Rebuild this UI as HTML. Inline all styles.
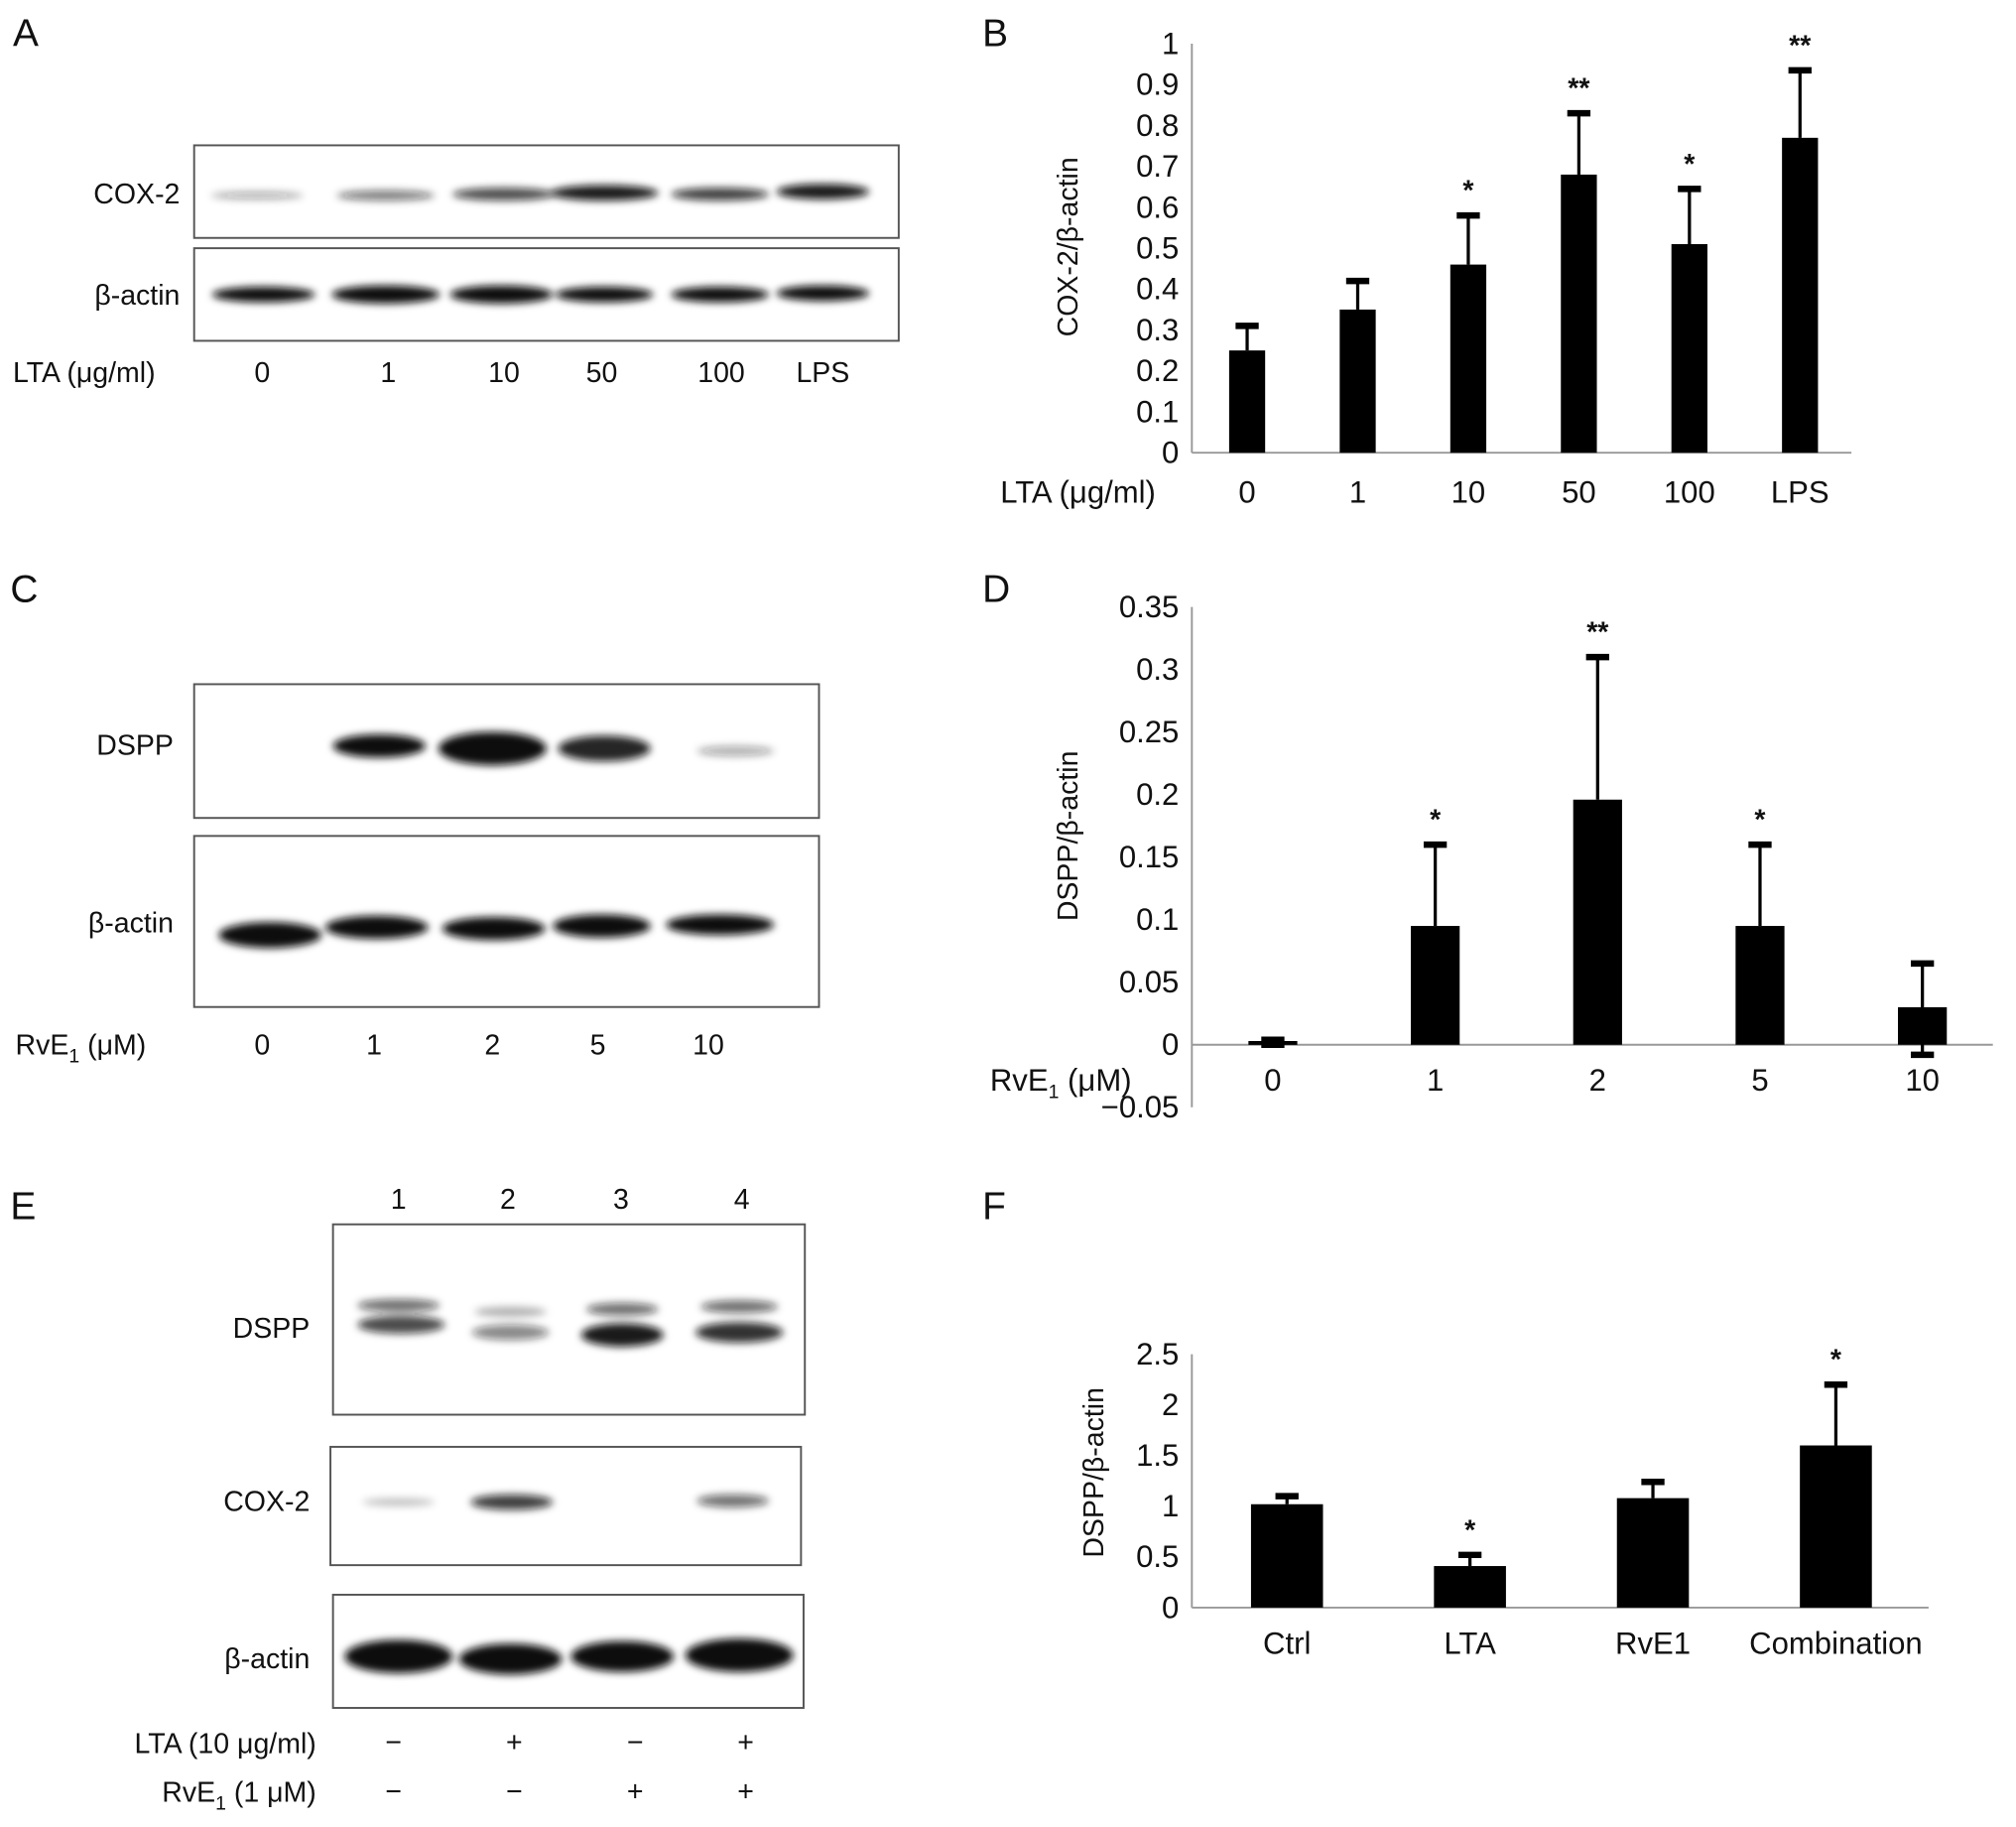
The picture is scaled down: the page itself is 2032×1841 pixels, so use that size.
<!DOCTYPE html>
<html><head><meta charset="utf-8">
<style>
html,body{margin:0;padding:0;background:#fff;}
svg{display:block;font-family:"Liberation Sans",sans-serif;}
.t{font-size:22px;fill:#111;}
.n{font-family:"Liberation Sans Narrow","Liberation Sans",sans-serif;font-size:24px;fill:#111;}
.L{font-size:30px;fill:#111;}
</style></head>
<body>
<svg id="fig" width="2032" height="1841" viewBox="0 0 1568 1420.6" preserveAspectRatio="none" xmlns="http://www.w3.org/2000/svg">
<defs>
<filter id="bl" x="-30%" y="-100%" width="160%" height="300%"><feGaussianBlur stdDeviation="3"/></filter>
</defs>
<text class="L" x="10" y="36">A</text>
<text class="L" x="764" y="36">B</text>
<text class="L" x="8" y="468">C</text>
<text class="L" x="764" y="468">D</text>
<text class="L" x="8" y="948">E</text>
<text class="L" x="764" y="948">F</text>

<g>
<rect x="151" y="113" width="548" height="72" fill="#fff" stroke="#555" stroke-width="1.5"/>
<rect x="151" y="193" width="548" height="72" fill="#fff" stroke="#555" stroke-width="1.5"/>
<g filter="url(#bl)" fill="#111">
<ellipse cx="200" cy="152" rx="36" ry="3" opacity="0.35"/>
<ellipse cx="300" cy="152" rx="38" ry="4" opacity="0.55"/>
<ellipse cx="392" cy="151" rx="40" ry="5" opacity="0.75"/>
<ellipse cx="470" cy="150" rx="42" ry="6" opacity="0.95"/>
<ellipse cx="560" cy="151" rx="38" ry="5" opacity="0.8"/>
<ellipse cx="640" cy="149" rx="36" ry="6" opacity="0.95"/>
<ellipse cx="205" cy="229" rx="40" ry="6"/>
<ellipse cx="300" cy="229" rx="42" ry="7"/>
<ellipse cx="390" cy="229" rx="40" ry="7"/>
<ellipse cx="470" cy="229" rx="38" ry="6"/>
<ellipse cx="560" cy="229" rx="38" ry="6"/>
<ellipse cx="640" cy="228" rx="36" ry="6"/>
</g>
<text class="t" x="140" y="158" text-anchor="end">COX-2</text>
<text class="t" x="140" y="237" text-anchor="end">β-actin</text>
<text class="t" x="10" y="297">LTA (μg/ml)</text>
<text class="t" x="204" y="297" text-anchor="middle">0</text>
<text class="t" x="302" y="297" text-anchor="middle">1</text>
<text class="t" x="392" y="297" text-anchor="middle">10</text>
<text class="t" x="468" y="297" text-anchor="middle">50</text>
<text class="t" x="561" y="297" text-anchor="middle">100</text>
<text class="t" x="640" y="297" text-anchor="middle">LPS</text>
</g>

<g>
<rect x="151" y="532" width="486" height="104" fill="#fff" stroke="#555" stroke-width="1.5"/>
<rect x="151" y="650" width="486" height="133" fill="#fff" stroke="#555" stroke-width="1.5"/>
<g filter="url(#bl)" fill="#111">
<ellipse cx="295" cy="580" rx="36" ry="9"/>
<ellipse cx="383" cy="582" rx="42" ry="13"/>
<ellipse cx="470" cy="582" rx="36" ry="10" opacity="0.9"/>
<ellipse cx="572" cy="584" rx="30" ry="4" opacity="0.35"/>
<ellipse cx="210" cy="727" rx="40" ry="10"/>
<ellipse cx="293" cy="721" rx="40" ry="9"/>
<ellipse cx="384" cy="722" rx="40" ry="9"/>
<ellipse cx="468" cy="720" rx="38" ry="9"/>
<ellipse cx="560" cy="719" rx="42" ry="8"/>
</g>
<text class="t" x="135" y="587" text-anchor="end">DSPP</text>
<text class="t" x="135" y="725" text-anchor="end">β-actin</text>
<text class="t" x="12" y="820">RvE<tspan font-size="15" dy="6">1</tspan><tspan dy="-6"> (μM)</tspan></text>
<text class="t" x="204" y="820" text-anchor="middle">0</text>
<text class="t" x="291" y="820" text-anchor="middle">1</text>
<text class="t" x="383" y="820" text-anchor="middle">2</text>
<text class="t" x="465" y="820" text-anchor="middle">5</text>
<text class="t" x="551" y="820" text-anchor="middle">10</text>
</g>

<g>
<rect x="259" y="952" width="367" height="148" fill="#fff" stroke="#555" stroke-width="1.5"/>
<rect x="257" y="1125" width="366" height="92" fill="#fff" stroke="#555" stroke-width="1.5"/>
<rect x="259" y="1240" width="366" height="88" fill="#fff" stroke="#555" stroke-width="1.5"/>
<g filter="url(#bl)" fill="#111">
<ellipse cx="310" cy="1015" rx="32" ry="5" opacity="0.6"/>
<ellipse cx="312" cy="1030" rx="34" ry="7" opacity="0.75"/>
<ellipse cx="397" cy="1020" rx="28" ry="4" opacity="0.3"/>
<ellipse cx="397" cy="1036" rx="30" ry="6" opacity="0.5"/>
<ellipse cx="484" cy="1018" rx="28" ry="5" opacity="0.6"/>
<ellipse cx="484" cy="1038" rx="32" ry="9" opacity="0.95"/>
<ellipse cx="575" cy="1016" rx="30" ry="5" opacity="0.6"/>
<ellipse cx="575" cy="1036" rx="34" ry="8" opacity="0.85"/>
<ellipse cx="310" cy="1168" rx="28" ry="3" opacity="0.25"/>
<ellipse cx="398" cy="1168" rx="32" ry="6" opacity="0.8"/>
<ellipse cx="570" cy="1167" rx="28" ry="5" opacity="0.6"/>
<ellipse cx="310" cy="1288" rx="42" ry="13"/>
<ellipse cx="397" cy="1290" rx="40" ry="12"/>
<ellipse cx="484" cy="1288" rx="40" ry="12"/>
<ellipse cx="575" cy="1287" rx="42" ry="13"/>
</g>
<text class="t" x="310" y="940" text-anchor="middle">1</text>
<text class="t" x="395" y="940" text-anchor="middle">2</text>
<text class="t" x="483" y="940" text-anchor="middle">3</text>
<text class="t" x="577" y="940" text-anchor="middle">4</text>
<text class="t" x="241" y="1040" text-anchor="end">DSPP</text>
<text class="t" x="241" y="1175" text-anchor="end">COX-2</text>
<text class="t" x="241" y="1297" text-anchor="end">β-actin</text>
<text class="t" x="246" y="1363" text-anchor="end">LTA (10 μg/ml)</text>
<text class="t" x="246" y="1401" text-anchor="end">RvE<tspan font-size="15" dy="6">1</tspan><tspan dy="-6"> (1 μM)</tspan></text>
<text class="t" x="306" y="1362" text-anchor="middle">−</text>
<text class="t" x="400" y="1362" text-anchor="middle">+</text>
<text class="t" x="494" y="1362" text-anchor="middle">−</text>
<text class="t" x="580" y="1362" text-anchor="middle">+</text>
<text class="t" x="306" y="1400" text-anchor="middle">−</text>
<text class="t" x="400" y="1400" text-anchor="middle">−</text>
<text class="t" x="494" y="1400" text-anchor="middle">+</text>
<text class="t" x="580" y="1400" text-anchor="middle">+</text>
</g>

<g id="chartB"></g>
<g id="chartD"></g>
<g id="chartF"></g>
</svg>
<script>
// Chart B data
const bCats = ["0","1","10","50","100","LPS"];
const bVals = [0.25,0.35,0.46,0.68,0.51,0.77];
const bErrs = [0.06,0.07,0.12,0.15,0.135,0.165];
const bStars = ["","","*","**","*","**"];
const bTicks = ["0","0.1","0.2","0.3","0.4","0.5","0.6","0.7","0.8","0.9","1"];
// Chart D data
const dCats = ["0","1","2","5","10"];
const dVals = [0.003,0.095,0.196,0.095,0.03];
const dErrs = [0.001,0.065,0.114,0.065,0.035];
const dLow = [0.003,0,0,0,0.038];
const dStars = ["","*","**","*",""];
const dTicks = ["−0.05","0","0.05","0.1","0.15","0.2","0.25","0.3","0.35"];
// Chart F data
const fCats = ["Ctrl","LTA","RvE1","Combination"];
const fVals = [1.02,0.41,1.08,1.6];
const fErrs = [0.08,0.11,0.16,0.6];
const fStars = ["","*","","*"];
const fTicks = ["0","0.5","1","1.5","2","2.5"];

const NS="http://www.w3.org/2000/svg";
function mk(parent,tag,attrs,text){const e=document.createElementNS(NS,tag);for(const k in attrs)e.setAttribute(k,attrs[k]);if(text!==undefined)e.textContent=text;parent.appendChild(e);return e;}

function drawChart(cfg){
  const g=document.getElementById(cfg.id);
  const y=v=>cfg.y0+(v-cfg.vmin)/(cfg.vmax-cfg.vmin)*(cfg.y1-cfg.y0);
  const x=i=>cfg.xFirst+i*cfg.xStep;
  const axis=mk(g,'line',{x1:cfg.ax,y1:y(cfg.vmin),x2:cfg.ax,y2:y(cfg.vmax),stroke:'#999','stroke-width':1.5});
  
  
  const base=mk(g,'line',{x1:cfg.ax,y1:y(0),x2:cfg.axEnd,y2:y(0),stroke:'#999','stroke-width':1.5});
  
  
  cfg.ticks.forEach(t=>{
    const v=parseFloat(t.replace('−','-'));
    const tx=mk(g,'text',{class:'n',x:cfg.ax-10,y:y(v)+8,'text-anchor':'end'},t);
    
    
  });
  cfg.cats.forEach((c,i)=>{
    const v=cfg.vals[i],e=cfg.errs[i],cx=x(i),w=cfg.bw;
    const top=Math.min(y(v),y(0));
    const b=mk(g,'rect',{x:cx-w/2,y:top,width:w,height:Math.max(Math.abs(y(0)-y(v)),3),fill:'#000'});
    
    
    const et=y(v+e);
    const el=mk(g,'line',{x1:cx,y1:y(v),x2:cx,y2:et,stroke:'#000','stroke-width':2.5});
    
    
    mk(g,'line',{x1:cx-9,y1:et,x2:cx+9,y2:et,stroke:'#000','stroke-width':5});
    if(cfg.lowErr && cfg.lowErr[i]){const eb=y(v-cfg.lowErr[i]);mk(g,'line',{x1:cx,y1:y(v),x2:cx,y2:eb,stroke:'#000','stroke-width':2.5});mk(g,'line',{x1:cx-9,y1:eb,x2:cx+9,y2:eb,stroke:'#000','stroke-width':5});}
    if(cfg.stars[i]){const s=mk(g,'text',{class:'t',x:cx,y:et-12,'text-anchor':'middle','font-weight':'bold','font-size':18},cfg.stars[i]);
      
      }
    const l=mk(g,'text',{class:'n',x:cx,y:cfg.labY,'text-anchor':'middle'},c);
    
    
  });
  const yl=mk(g,'text',{class:'t',transform:`translate(${cfg.ylx},${cfg.yly}) rotate(-90)`,'text-anchor':'middle'},cfg.ytitle);
  
  
  if(cfg.xtitle){const xt=mk(g,'text',{class:'n',x:cfg.xtx,y:cfg.labY});xt.innerHTML=cfg.xtitle;
    
    }
}
drawChart({id:'chartB',cats:bCats,vals:bVals,errs:bErrs,stars:bStars,ticks:bTicks,vmin:0,vmax:1,y0:352,y1:34,ax:927,axEnd:1440,xFirst:970,xStep:86,bw:28,labY:391,ylx:838,yly:192,ytitle:'COX-2/β-actin',xtx:778,xtitle:'LTA (μg/ml)'});
drawChart({id:'chartD',cats:dCats,vals:dVals,errs:dErrs,lowErr:dLow,stars:dStars,ticks:dTicks,vmin:-0.05,vmax:0.35,y0:861,y1:472,ax:927,axEnd:1550,xFirst:990,xStep:126.3,bw:38,labY:848,ylx:838,yly:650,ytitle:'DSPP/β-actin',xtx:770,xtitle:'RvE<tspan font-size="15" dy="6">1</tspan><tspan dy="-6"> (μM)</tspan>'});
drawChart({id:'chartF',cats:fCats,vals:fVals,errs:fErrs,stars:fStars,ticks:fTicks,vmin:0,vmax:2.5,y0:1250,y1:1053,ax:927,axEnd:1500,xFirst:1001,xStep:142.3,bw:56,labY:1286,ylx:858,yly:1145,ytitle:'DSPP/β-actin'});
</script>
</body></html>
